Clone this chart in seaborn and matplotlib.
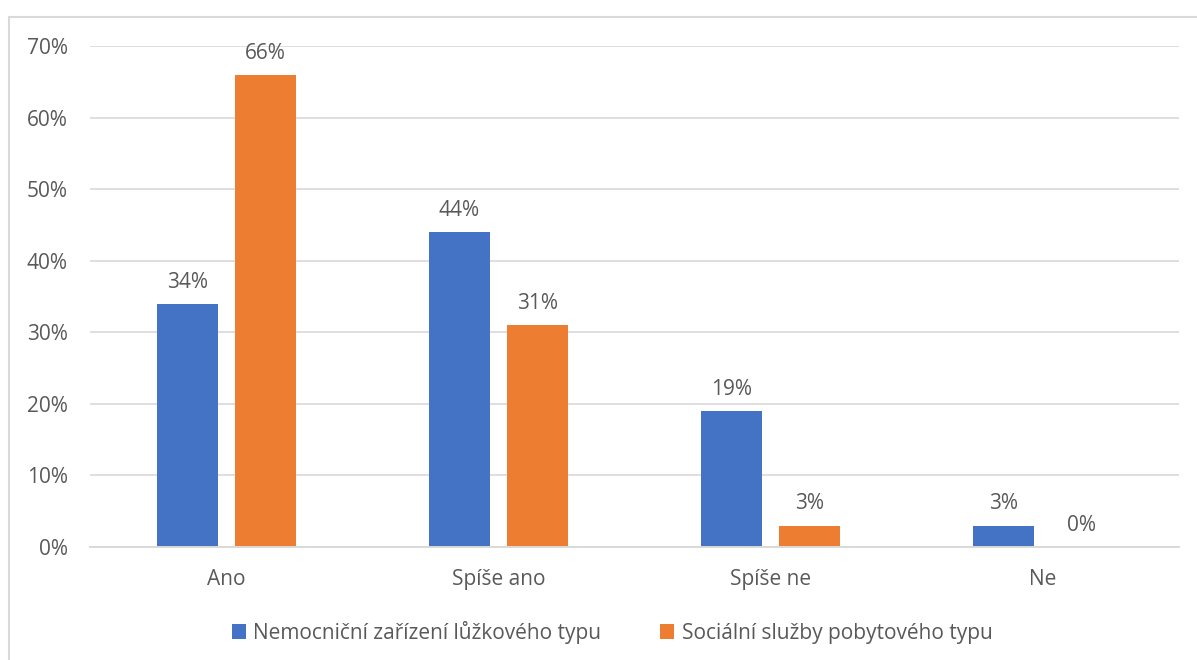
import matplotlib
matplotlib.use("Agg")
import matplotlib.pyplot as plt
from matplotlib.lines import Line2D
from matplotlib.ticker import FuncFormatter
import seaborn as sns
import pandas as pd

categories = ["Ano", "Spíše ano", "Spíše ne", "Ne"]
series_names = ["Nemocniční zařízení lůžkového typu", "Sociální služby pobytového typu"]
hospital = [34, 44, 19, 3]
social = [66, 31, 3, 0]
colors = ["#4472C4", "#ED7D31"]

df = pd.DataFrame({
    "kategorie": categories * 2,
    "typ": [series_names[0]] * 4 + [series_names[1]] * 4,
    "hodnota": hospital + social,
})

sns.set_theme(style="white")
plt.rcParams["font.family"] = ["Open Sans", "DejaVu Sans"]
text_color = "#595959"
grid_color = "#D9D9D9"
fs = 15

fig = plt.figure(figsize=(11.97, 6.6), dpi=100)
ax = fig.add_axes([90 / 1197, 1 - 547 / 660, (1179 - 90) / 1197, (547 - 46) / 660])

sns.barplot(data=df, x="kategorie", y="hodnota", hue="typ", order=categories,
            hue_order=series_names, palette=colors, width=0.572, gap=0.217,
            saturation=1, linewidth=0, ax=ax, legend=True)

ax.set_ylim(0, 70)
ax.set_xlim(-0.5, 3.5)
ax.set_yticks(range(0, 71, 10))
ax.yaxis.set_major_formatter(FuncFormatter(lambda v, p: f"{int(v)}%"))
ax.set_xlabel("")
ax.set_ylabel("")
ax.grid(axis="y", color=grid_color, linewidth=1.2)
ax.set_axisbelow(True)
for s in ["top", "right", "left"]:
    ax.spines[s].set_visible(False)
ax.spines["bottom"].set_color(grid_color)
ax.spines["bottom"].set_linewidth(1.4)
ax.tick_params(axis="both", length=0, labelsize=fs, labelcolor=text_color)
ax.tick_params(axis="y", pad=16)
ax.tick_params(axis="x", pad=16)

for container in ax.containers:
    ax.bar_label(container, labels=[f"{int(v)}%" for v in container.datavalues],
                 padding=8, fontsize=fs, color=text_color)

handles, labels = ax.get_legend_handles_labels()
ax.get_legend().remove()
fig.legend(handles, labels, loc="center", bbox_to_anchor=(612 / 1197, 1 - 632 / 660),
           ncol=2, frameon=False, fontsize=fs, labelcolor=text_color,
           handlelength=0.7, handleheight=0.7, handletextpad=0.35,
           columnspacing=2.8)

# chart frame
fy = 1 - 17 / 660
fx = 9 / 1197
fig.add_artist(Line2D([fx, fx], [0, fy], transform=fig.transFigure, color=grid_color, linewidth=1.5))
fig.add_artist(Line2D([fx, 1], [fy, fy], transform=fig.transFigure, color=grid_color, linewidth=1.5))

fig.savefig("out.png", dpi=100)
